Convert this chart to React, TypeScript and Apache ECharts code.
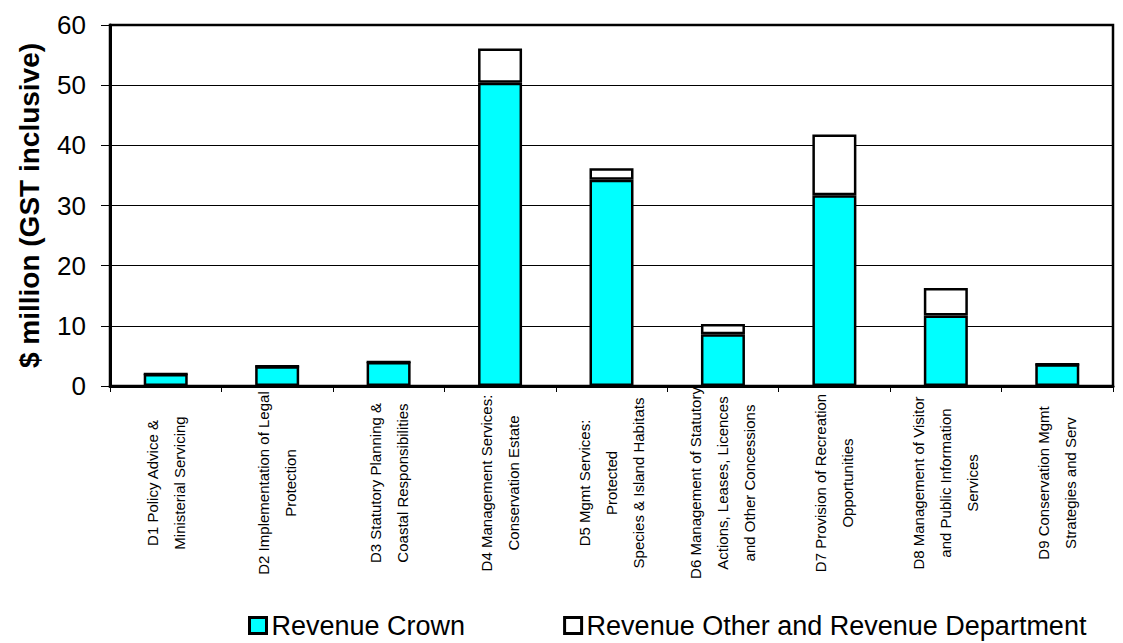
import React, { useEffect, useRef } from "react";
import * as echarts from "echarts";

const categories = [
  "D1 Policy Advice &\nMinisterial Servicing",
  "D2 Implementation of Legal\nProtection",
  "D3 Statutory Planning &\nCoastal Responsibilities",
  "D4 Management Services:\nConservation Estate",
  "D5 Mgmt Services:\nProtected\nSpecies & Island Habitats",
  "D6 Management of Statutory\nActions, Leases, Licences\nand Other Concessions",
  "D7 Provision of Recreation\nOpportunities",
  "D8 Management of Visitor\nand Public Information\nServices",
  "D9 Conservation Mgmt\nStrategies and Serv",
];

const revenueCrown = [2.0, 3.3, 4.0, 50.4, 34.3, 8.6, 31.7, 11.7, 3.6];
const revenueOther = [0, 0, 0, 5.7, 1.9, 1.7, 10.1, 4.6, 0];

const seriesNames = ["Revenue Crown", "Revenue Other and Revenue Department"];
const yAxisTitle = "$ million (GST inclusive)";
const yMin = 0;
const yMax = 60;
const yInterval = 10;

export default function App() {
  const ref = useRef<HTMLDivElement>(null);

  useEffect(() => {
    if (!ref.current) return;
    const chart = echarts.init(ref.current, null, { renderer: "svg" });
    chart.setOption({
      animation: false,
      backgroundColor: "#fff",
      grid: {
        left: 110,
        right: 10,
        top: 25,
        bottom: 257,
        show: true,
        borderColor: "#000",
        borderWidth: 2.5,
        outerBoundsMode: "none",
      },
      legend: {
        data: seriesNames,
        left: 248,
        top: 612,
        padding: 0,
        icon: "rect",
        itemWidth: 17,
        itemHeight: 16,
        itemGap: 98,
        itemStyle: { borderColor: "#000", borderWidth: 3 },
        textStyle: {
          fontFamily: "'Liberation Sans', Arial, sans-serif",
          fontSize: 27,
          color: "#000",
        },
      },
      xAxis: {
        type: "category",
        data: categories,
        axisLine: { lineStyle: { color: "#000", width: 3 } },
        axisTick: {
          show: true,
          interval: 0,
          length: 6,
          alignWithLabel: false,
          lineStyle: { color: "#000", width: 1 },
        },
        axisLabel: {
          interval: 0,
          rotate: 90,
          align: "center",
          verticalAlign: "middle",
          margin: 97,
          fontFamily: "'Liberation Sans', Arial, sans-serif",
          fontSize: 15,
          lineHeight: 27,
          color: "#000",
        },
      },
      yAxis: {
        type: "value",
        min: yMin,
        max: yMax,
        interval: yInterval,
        name: yAxisTitle,
        nameLocation: "middle",
        nameRotate: 90,
        nameGap: 67,
        nameTextStyle: {
          fontFamily: "'Liberation Sans', Arial, sans-serif",
          fontWeight: "bold",
          fontSize: 28,
          color: "#000",
        },
        axisLine: { show: true, lineStyle: { color: "#000", width: 3 } },
        axisTick: { show: true, length: 9, lineStyle: { color: "#000", width: 1 } },
        axisLabel: {
          margin: 24,
          fontFamily: "'Liberation Sans', Arial, sans-serif",
          fontSize: 26,
          color: "#000",
        },
        splitLine: { show: true, lineStyle: { color: "#000", width: 1 } },
      },
      series: [
        {
          name: seriesNames[0],
          type: "bar",
          stack: "total",
          data: revenueCrown,
          barWidth: 44,
          itemStyle: { color: "#00FFFF", borderColor: "#000", borderWidth: 2.5 },
        },
        {
          name: seriesNames[1],
          type: "bar",
          stack: "total",
          data: revenueOther,
          barWidth: 44,
          itemStyle: { color: "#FFFFFF", borderColor: "#000", borderWidth: 2.5 },
        },
      ],
    });
    return () => chart.dispose();
  }, []);

  return (
    <div
      ref={ref}
      style={{ position: "absolute", left: 0, top: 0, width: 1123, height: 643 }}
    />
  );
}
